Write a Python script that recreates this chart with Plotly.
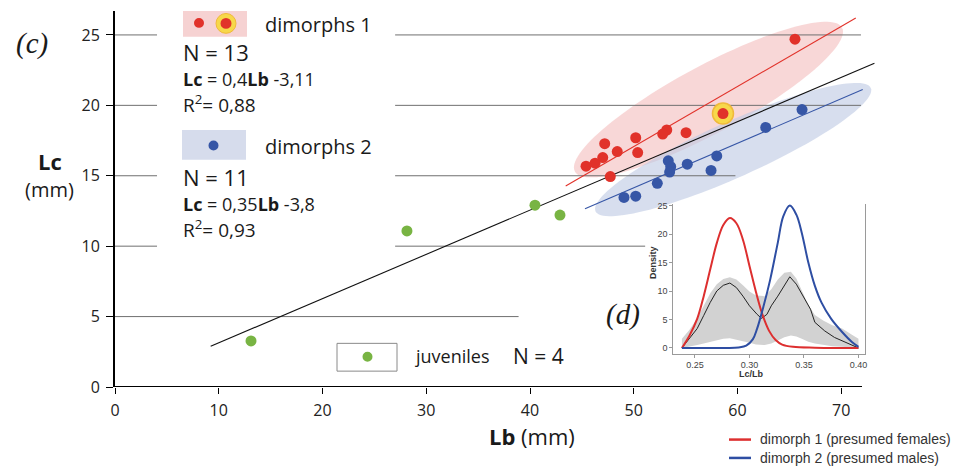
import numpy as np
import plotly.graph_objects as go

# ---------------- data ----------------
# dimorphs 1 (red)
red_lb = [65.54, 58.60, 55.04, 53.18, 52.79, 50.19, 50.38, 48.41, 47.20, 47.01, 46.27, 45.40, 47.74]
red_lc = [24.70, 19.42, 18.06, 18.25, 17.96, 17.70, 16.65, 16.72, 17.28, 16.29, 15.89, 15.68, 14.94]
# highlighted specimen
hl_lb = [58.60]
hl_lc = [19.42]
# dimorphs 2 (blue)
blue_lb = [66.22, 62.72, 58.00, 57.45, 55.16, 53.33, 53.56, 53.46, 52.27, 50.19, 49.06]
blue_lc = [19.70, 18.43, 16.41, 15.38, 15.82, 16.06, 15.64, 15.26, 14.46, 13.55, 13.46]
# juveniles (green)
juv_lb = [13.11, 28.14, 40.48, 42.89]
juv_lc = [3.27, 11.08, 12.91, 12.21]
# regression lines (end points as drawn)
all_fit_lb = [9.22, 73.2]
all_fit_lc = [2.89, 22.99]
red_fit_lb = [43.44, 71.4]
red_fit_lc = [14.27, 26.2]
blue_fit_lb = [45.3, 72.07]
blue_fit_lc = [12.65, 21.13]

x_ticks = [0, 10, 20, 30, 40, 50, 60, 70]
y_ticks = [0, 5, 10, 15, 20, 25]

# inset (d): density of Lc/Lb
red_dx = [0.238, 0.245, 0.252, 0.258, 0.264, 0.270, 0.276, 0.282, 0.288, 0.294, 0.300,
          0.306, 0.312, 0.318, 0.324, 0.330, 0.340, 0.360, 0.380, 0.400]
red_dy = [0.0, 2.2, 5.1, 9.1, 13.8, 18.4, 21.6, 22.8, 21.9, 19.0, 14.4,
          9.8, 5.8, 3.0, 1.4, 0.6, 0.2, 0.05, 0.0, 0.0]
blue_dx = [0.238, 0.260, 0.280, 0.290, 0.297, 0.303, 0.307, 0.313, 0.319, 0.326, 0.331,
           0.337, 0.343, 0.348, 0.354, 0.360, 0.366, 0.375, 0.385, 0.394, 0.400]
blue_dy = [0.0, 0.0, 0.0, 0.1, 0.4, 1.5, 3.4, 7.4, 12.0, 18.5, 23.1,
           25.0, 23.4, 20.2, 15.0, 10.9, 8.0, 5.1, 2.8, 1.05, 0.2]
all_dx = [0.238, 0.245, 0.252, 0.258, 0.264, 0.270, 0.276, 0.282, 0.288, 0.294, 0.300,
          0.307, 0.311, 0.316, 0.320, 0.326, 0.333, 0.337, 0.343, 0.349, 0.356, 0.360,
          0.369, 0.378, 0.388, 0.397, 0.400]
all_dy = [0.0, 1.6, 3.4, 5.7, 8.0, 10.0, 11.0, 11.4, 10.6, 9.1, 7.4,
          5.9, 5.2, 5.9, 7.4, 9.1, 11.2, 12.5, 11.2, 9.1, 6.8, 4.5,
          3.0, 1.85, 1.0, 0.2, 0.0]
band_x = [0.238, 0.245, 0.252, 0.258, 0.264, 0.270, 0.276, 0.282, 0.288, 0.294, 0.300,
          0.306, 0.314, 0.320, 0.326, 0.332, 0.338, 0.343, 0.348, 0.354, 0.360,
          0.368, 0.376, 0.385, 0.394, 0.400]
band_hi = [1.6, 3.2, 5.2, 7.4, 9.6, 11.2, 12.1, 12.4, 12.0, 11.0, 9.9,
           9.2, 9.1, 10.3, 12.0, 13.2, 13.4, 12.2, 10.0, 7.6, 5.8,
           4.8, 4.0, 3.4, 2.3, 1.6]
band_lo = [0.0, 0.2, 0.5, 0.8, 1.1, 1.4, 1.6, 1.7, 1.5, 1.2, 0.9,
           0.6, 0.5, 0.8, 1.3, 1.9, 2.2, 2.0, 1.6, 1.1, 0.8,
           0.5, 0.3, 0.2, 0.1, 0.0]
inset_xticks = [0.25, 0.30, 0.35, 0.40]
inset_yticks = [0, 5, 10, 15, 20, 25]

# ---------------- geometry ----------------
OFF = 8                      # page body margin of the html page
W, H = 959 - OFF, 470 - OFF
ML, MR, MT, MB = 107, 83, 0, 83
PW, PH = W - ML - MR, H - MT - MB
SX, SY = 10.375, 14.195      # px per data unit
XMAX, YMAX = PW / SX, PH / SY


def px(x):                   # page pixel -> paper
    return (x - OFF - ML) / PW


def py(y):
    return (H - MB - (y - OFF)) / PH


RED = "#e1322a"
BLUE = "#3656a6"
GREEN = "#78b443"
FONT = "Open Sans, Noto Sans, sans-serif"
NARROW = "Liberation Sans, Arial, sans-serif"


def ellipse_path(cx, cy, a, b, ang):
    t = np.linspace(0, 2 * np.pi, 121)
    th = np.radians(ang)
    dx = a * np.cos(t) * np.cos(th) - b * np.sin(t) * np.sin(th)
    dy = a * np.cos(t) * np.sin(th) + b * np.sin(t) * np.cos(th)
    xs = cx + dx / SX
    ys = cy + dy / SY
    return "M " + " L ".join(f"{x:.3f},{y:.3f}" for x, y in zip(xs, ys)) + " Z"


fig = go.Figure()

# fit lines
fig.add_trace(go.Scatter(x=all_fit_lb, y=all_fit_lc, mode="lines",
                         line=dict(color="#111111", width=1.1), hoverinfo="skip"))
fig.add_trace(go.Scatter(x=red_fit_lb, y=red_fit_lc, mode="lines",
                         line=dict(color=RED, width=1.1), hoverinfo="skip"))
fig.add_trace(go.Scatter(x=blue_fit_lb, y=blue_fit_lc, mode="lines",
                         line=dict(color=BLUE, width=1.1), hoverinfo="skip"))
# points
fig.add_trace(go.Scatter(x=juv_lb, y=juv_lc, mode="markers",
                         marker=dict(color=GREEN, size=11, line=dict(width=0))))
fig.add_trace(go.Scatter(x=blue_lb, y=blue_lc, mode="markers",
                         marker=dict(color=BLUE, size=11, line=dict(width=0))))
fig.add_trace(go.Scatter(x=hl_lb, y=hl_lc, mode="markers",
                         marker=dict(color="#f7d84a", size=21, line=dict(color="#f0b93a", width=1.5))))
fig.add_trace(go.Scatter(x=red_lb, y=red_lc, mode="markers",
                         marker=dict(color=RED, size=11, line=dict(width=0))))

# inset traces
fig.add_trace(go.Scatter(x=band_x, y=band_lo, mode="lines", line=dict(width=0, color="#d0d0d0"),
                         xaxis="x2", yaxis="y2", hoverinfo="skip"))
fig.add_trace(go.Scatter(x=band_x, y=band_hi, mode="lines", line=dict(width=0, color="#d0d0d0"),
                         fill="tonexty", fillcolor="#d2d2d2", xaxis="x2", yaxis="y2", hoverinfo="skip"))
fig.add_trace(go.Scatter(x=all_dx, y=all_dy, mode="lines", line=dict(color="#222222", width=1),
                         xaxis="x2", yaxis="y2"))
fig.add_trace(go.Scatter(x=red_dx, y=red_dy, mode="lines", line=dict(color="#dd2f2f", width=2, shape="spline"),
                         xaxis="x2", yaxis="y2"))
fig.add_trace(go.Scatter(x=blue_dx, y=blue_dy, mode="lines", line=dict(color="#2e4ea3", width=2, shape="spline"),
                         xaxis="x2", yaxis="y2"))

shapes = []
# ellipses
shapes.append(dict(type="path", xref="x", yref="y", layer="below", line=dict(width=0),
                   fillcolor="rgba(243,190,190,0.62)",
                   path=ellipse_path(57.20, 20.41, 152, 34, 28.5)))
shapes.append(dict(type="path", xref="x", yref="y", layer="below", line=dict(width=0),
                   fillcolor="rgba(190,202,228,0.62)",
                   path=ellipse_path(59.58, 16.86, 151, 28, 24.3)))
# interrupted horizontal guide lines
grid_segments = [(25, 0, 4.05), (25, 27.0, 71.9), (20, 0, 4.05), (20, 27.0, 71.9),
                 (15, 0, 4.05), (15, 27.0, 59.8), (10, 0, 4.05), (10, 27.0, 51.1),
                 (5, 0, 38.9)]
for gy, gx0, gx1 in grid_segments:
    shapes.append(dict(type="line", xref="x", yref="y", layer="below", x0=gx0, x1=gx1, y0=gy, y1=gy,
                       line=dict(color="#6f6f6f", width=1)))
# x axis line
shapes.append(dict(type="line", xref="x", yref="y", x0=0, x1=72, y0=0, y1=0,
                   line=dict(color="black", width=2)))
# legend boxes
shapes.append(dict(type="rect", xref="paper", yref="paper", x0=px(183), x1=px(247), y0=py(34), y1=py(8),
                   fillcolor="#f6d2d2", line=dict(width=0), layer="below"))
shapes.append(dict(type="rect", xref="paper", yref="paper", x0=px(182), x1=px(246), y0=py(158), y1=py(128),
                   fillcolor="#d6dcec", line=dict(width=0), layer="below"))
shapes.append(dict(type="rect", xref="paper", yref="paper", x0=px(337), x1=px(397), y0=py(371), y1=py(343),
                   fillcolor="white", line=dict(color="#8a8a8a", width=1)))


def circ(cx, cy, r, fill, lc=None, lw=0):
    return dict(type="circle", xref="paper", yref="paper", x0=px(cx - r), x1=px(cx + r),
                y0=py(cy + r), y1=py(cy - r), fillcolor=fill,
                line=dict(color=lc or fill, width=lw))


shapes.append(circ(199, 20, 5, RED))
shapes.append(circ(226, 20.5, 10, "#f7d84a", "#f0b93a", 1))
shapes.append(circ(226, 20.5, 5.5, RED))
shapes.append(circ(213.5, 143.5, 5, BLUE))
shapes.append(circ(367.5, 356.5, 5, GREEN))
# bottom-right legend lines
shapes.append(dict(type="line", xref="paper", yref="paper", x0=px(729), x1=px(751), y0=py(440), y1=py(440),
                   line=dict(color="#dd2f2f", width=2.5)))
shapes.append(dict(type="line", xref="paper", yref="paper", x0=px(729), x1=px(751), y0=py(458.5), y1=py(458.5),
                   line=dict(color="#2e4ea3", width=2.5)))

ann = []


def text(x, y, s, size, xanchor="left", family=FONT, color="#1a1a1a", angle=0):
    ann.append(dict(x=px(x), y=py(y), xref="paper", yref="paper", text=s, showarrow=False,
                    xanchor=xanchor, yanchor="middle", textangle=angle, align="left",
                    font=dict(size=size, family=family, color=color)))


SERIF = "Liberation Serif, DejaVu Serif, serif"
text(32, 41, "<i>(c)</i>", 29, "center", SERIF)
text(50, 159, "<b>Lc</b>", 22, "center")
text(49, 188, "(mm)", 20, "center")
text(263, 22, "dimorphs 1", 20)
text(181, 75, "<span style='font-size:22px'>N = 13</span><br>"
              "<span style='font-size:18px'><b>Lc</b> = 0,4<b>Lb</b> -3,11</span><br>"
              "<span style='font-size:19px'>R<sup>2</sup>= 0,88</span>", 19.6)
text(263, 145, "dimorphs 2", 20)
text(181, 201.5, "<span style='font-size:22px'>N = 11</span><br>"
                 "<span style='font-size:18px'><b>Lc</b> = 0,35<b>Lb</b> -3,8</span><br>"
                 "<span style='font-size:19px'>R<sup>2</sup>= 0,93</span>", 19.6)
text(413, 356, "juveniles", 18)
text(511, 356, "N = 4", 21)
text(532, 436, "<b>Lb</b> (mm)", 22, "center")
text(623, 314, "<i>(d)</i>", 29, "center", SERIF)
text(653, 262, "<b>Density</b>", 9, "center", NARROW, "#333", -90)
text(751, 374, "<b>Lc/Lb</b>", 9, "center", NARROW, "#333")
text(758, 439.5, "dimorph 1 (presumed females)", 14, "left", NARROW, "#333")
text(758, 458.5, "dimorph 2 (presumed males)", 14, "left", NARROW, "#333")

fig.update_layout(
    width=W, height=H, autosize=False,
    margin=dict(l=ML, r=MR, t=MT, b=MB, pad=0),
    paper_bgcolor="white", plot_bgcolor="rgba(0,0,0,0)",
    showlegend=False,
    xaxis=dict(range=[0, XMAX], showgrid=False, zeroline=False, showline=False,
               tickmode="array", tickvals=x_ticks, ticks="outside", ticklen=6, tickwidth=1.2,
               tickcolor="black", ticklabelstandoff=3,
               tickfont=dict(size=16, family=FONT, color="#222")),
    yaxis=dict(range=[0, YMAX], showgrid=False, zeroline=False, showline=True,
               linecolor="black", linewidth=2,
               tickmode="array", tickvals=y_ticks, ticks="outside", ticklen=7, tickwidth=1.2,
               tickcolor="black", ticklabelstandoff=3,
               tickfont=dict(size=16, family=FONT, color="#222")),
    xaxis2=dict(domain=[px(673.3), px(865)], anchor="y2", range=[0.2301, 0.406],
                showgrid=False, zeroline=False, showline=True, linecolor="#9a9a9a", linewidth=1,
                tickmode="array", tickvals=inset_xticks, ticktext=["0.25", "0.30", "0.35", "0.40"],
                ticks="outside", ticklen=3, tickcolor="#9a9a9a",
                tickfont=dict(size=9, family=NARROW, color="#444")),
    yaxis2=dict(domain=[py(353.4), py(202.4)], anchor="x2", range=[-1, 25.3],
                showgrid=False, zeroline=False, showline=True, mirror=True,
                linecolor="#9a9a9a", linewidth=1,
                tickmode="array", tickvals=inset_yticks,
                ticks="outside", ticklen=3, tickcolor="#9a9a9a",
                tickfont=dict(size=9, family=NARROW, color="#444")),
    shapes=shapes, annotations=ann,
)

fig.write_html("out.html")
